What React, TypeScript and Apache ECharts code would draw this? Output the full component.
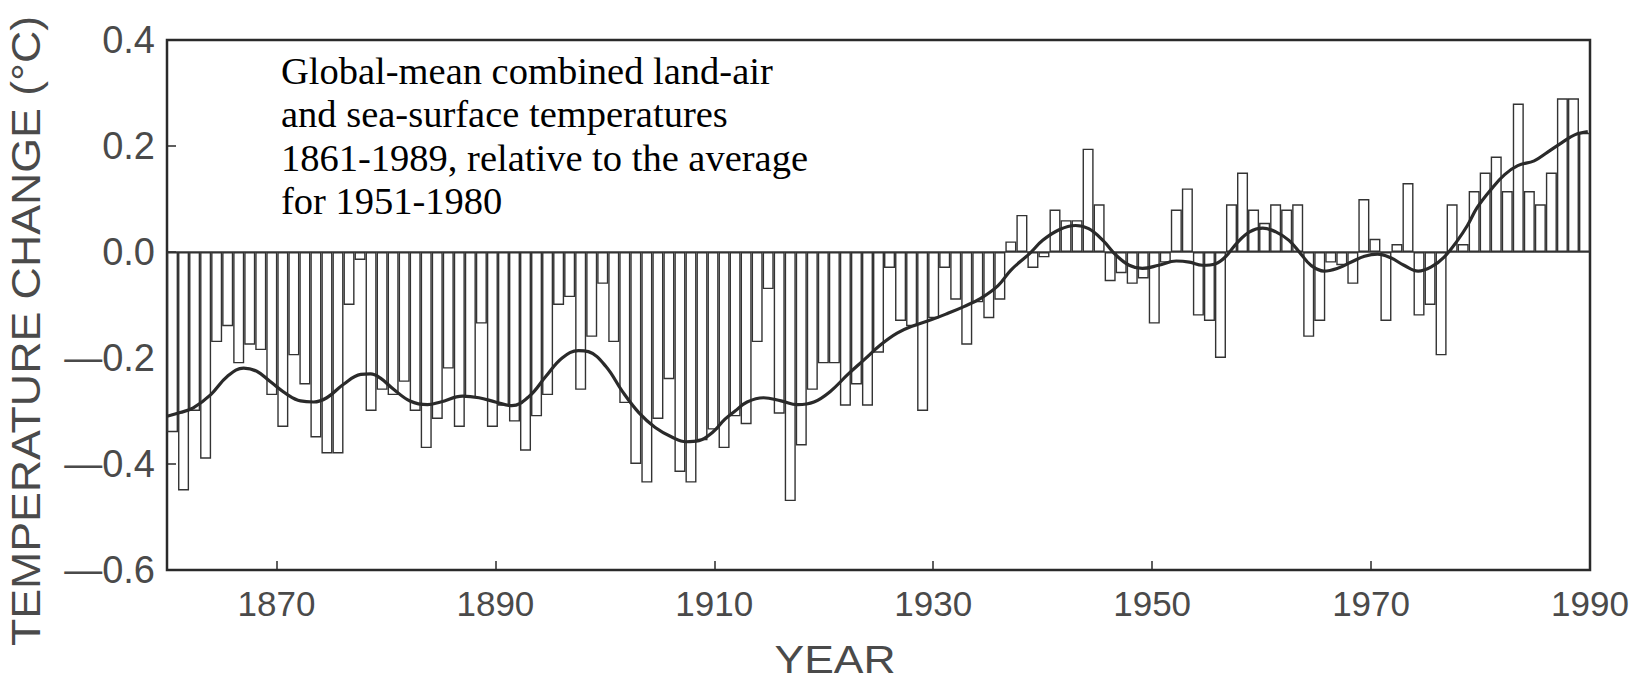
import React, { useEffect, useRef } from "react";
import * as echarts from "echarts";

// Annual anomalies (°C) of global-mean land-air + sea-surface temperature, 1861–1989,
// relative to the 1951–1980 average.
const FIRST_YEAR = 1861;
const anomalies: number[] = [
  // 1861–1870
  -0.34, -0.45, -0.30, -0.39, -0.17, -0.14, -0.21, -0.175, -0.185, -0.27,
  // 1871–1880
  -0.33, -0.195, -0.25, -0.35, -0.38, -0.38, -0.10, -0.015, -0.30, -0.26,
  // 1881–1890
  -0.27, -0.245, -0.30, -0.37, -0.315, -0.22, -0.33, -0.275, -0.135, -0.33,
  // 1891–1900
  -0.29, -0.32, -0.375, -0.31, -0.27, -0.10, -0.085, -0.26, -0.16, -0.06,
  // 1901–1910
  -0.17, -0.285, -0.40, -0.435, -0.315, -0.24, -0.415, -0.435, -0.355, -0.335,
  // 1911–1920
  -0.37, -0.31, -0.325, -0.17, -0.07, -0.305, -0.47, -0.365, -0.26, -0.21,
  // 1921–1930
  -0.21, -0.29, -0.25, -0.29, -0.19, -0.03, -0.13, -0.14, -0.30, -0.125,
  // 1931–1940
  -0.03, -0.09, -0.175, -0.095, -0.125, -0.09, 0.02, 0.07, -0.03, -0.01,
  // 1941–1950
  0.08, 0.06, 0.06, 0.195, 0.09, -0.055, -0.04, -0.06, -0.05, -0.135,
  // 1951–1960
  -0.02, 0.08, 0.12, -0.12, -0.13, -0.20, 0.09, 0.15, 0.08, 0.055,
  // 1961–1970
  0.09, 0.08, 0.09, -0.16, -0.13, -0.02, -0.025, -0.06, 0.10, 0.025,
  // 1971–1980
  -0.13, 0.015, 0.13, -0.12, -0.10, -0.195, 0.09, 0.015, 0.115, 0.15,
  // 1981–1989
  0.18, 0.115, 0.28, 0.115, 0.09, 0.15, 0.29, 0.29, 0.225,
];

const years: string[] = anomalies.map((_, i) => String(FIRST_YEAR + i));

// Smoothed curve (decadal filter), sampled along the time axis.
const smoothYears: number[] = [
  1860.0, 1861.2, 1862.4, 1864.0, 1865.5, 1867.0, 1868.2, 1869.4, 1871.0, 1872.2,
  1873.4, 1874.6, 1876.1, 1877.7, 1878.6, 1879.5, 1880.7, 1882.2, 1883.8, 1885.0,
  1887.0, 1888.5, 1890.0, 1891.5, 1893.1, 1894.6, 1896.1, 1897.6, 1898.5, 1900.1,
  1901.6, 1903.1, 1904.6, 1906.2, 1907.4, 1908.6, 1909.8, 1911.0, 1911.9, 1913.0,
  1914.5, 1916.1, 1917.6, 1919.1, 1920.6, 1922.2, 1923.7, 1925.2, 1926.7, 1928.2,
  1929.8, 1931.3, 1932.8, 1934.3, 1935.9, 1937.1, 1938.8, 1940.0, 1941.5, 1943.0,
  1944.2, 1945.5, 1946.7, 1947.9, 1949.1, 1950.6, 1952.2, 1953.4, 1954.6, 1955.8,
  1956.7, 1957.7, 1958.9, 1960.1, 1961.3, 1962.5, 1963.6, 1964.5, 1965.7, 1966.9,
  1968.2, 1969.4, 1970.6, 1971.8, 1973.0, 1974.3, 1975.5, 1976.7, 1977.9, 1978.8,
  1979.7, 1981.0, 1982.2, 1983.4, 1984.9, 1986.1, 1987.4, 1988.6, 1989.8,
];
const smoothValues: number[] = [
  -0.310, -0.303, -0.294, -0.269, -0.235, -0.219, -0.225, -0.244, -0.269, -0.281,
  -0.283, -0.275, -0.250, -0.231, -0.230, -0.238, -0.259, -0.281, -0.288, -0.283,
  -0.272, -0.275, -0.283, -0.290, -0.272, -0.235, -0.200, -0.186, -0.188, -0.216,
  -0.263, -0.303, -0.331, -0.350, -0.358, -0.356, -0.341, -0.315, -0.300, -0.283,
  -0.275, -0.281, -0.288, -0.283, -0.263, -0.231, -0.203, -0.175, -0.153, -0.139,
  -0.128, -0.116, -0.103, -0.088, -0.064, -0.034, -0.003, 0.022, 0.042, 0.050,
  0.044, 0.022, -0.006, -0.025, -0.031, -0.025, -0.017, -0.019, -0.025, -0.022,
  -0.009, 0.016, 0.038, 0.045, 0.038, 0.022, -0.004, -0.025, -0.036, -0.031,
  -0.019, -0.008, -0.004, -0.011, -0.025, -0.036, -0.028, -0.009, 0.022, 0.050,
  0.084, 0.119, 0.146, 0.163, 0.172, 0.188, 0.206, 0.221, 0.227,
];

const yearTicks: number[] = [1870, 1890, 1910, 1930, 1950, 1970, 1990];

const noteLines: string[] = [
  "Global-mean combined land-air",
  "and sea-surface temperatures",
  "1861-1989, relative to the average",
  "for 1951-1980",
];

const SANS = '"Liberation Sans", Arial, Helvetica, sans-serif';
const INK = "#2a2a2a";
const LABEL = "#4a4a4a";

export default function App() {
  const ref = useRef<HTMLDivElement | null>(null);

  useEffect(() => {
    if (!ref.current) return;
    const chart = echarts.init(ref.current, undefined, { renderer: "svg" });

    const option: echarts.EChartsOption = {
      animation: false,
      backgroundColor: "#ffffff",
      grid: {
        left: 167,
        top: 40,
        right: 53,
        bottom: 111,
        show: true,
        borderColor: INK,
        borderWidth: 2.5,
        backgroundColor: "transparent",
        containLabel: false,
        outerBoundsMode: "none",
      } as any,
      xAxis: [
        {
          type: "category",
          position: "top",
          data: years,
          boundaryGap: true,
          show: false,
        },
        {
          type: "value",
          position: "bottom",
          min: 1860,
          max: 1990,
          axisLine: { show: false },
          splitLine: { show: false },
          axisTick: {
            show: true,
            inside: true,
            length: 9,
            customValues: yearTicks,
            lineStyle: { color: INK, width: 1.5 },
          },
          axisLabel: {
            customValues: yearTicks,
            formatter: (v: number) => String(v),
            color: LABEL,
            fontFamily: SANS,
            fontSize: 35,
            margin: 16,
          },
        } as any,
      ],
      yAxis: {
        type: "value",
        min: -0.6,
        max: 0.4,
        interval: 0.2,
        axisLine: { show: false },
        splitLine: { show: false },
        axisTick: {
          show: true,
          inside: true,
          length: 9,
          lineStyle: { color: INK, width: 1.5 },
        },
        axisLabel: {
          color: LABEL,
          fontFamily: SANS,
          fontSize: 38,
          margin: 12,
          formatter: (v: number) => {
            const r = Math.round(v * 10) / 10;
            return (r < 0 ? "\u2014" : "") + Math.abs(r).toFixed(1);
          },
        },
      },
      series: [
        {
          type: "bar",
          xAxisIndex: 0,
          yAxisIndex: 0,
          data: anomalies,
          barCategoryGap: "0%",
          barGap: "0%",
          itemStyle: {
            color: "#ffffff",
            borderColor: "#333333",
            borderWidth: 1.4,
          },
          silent: true,
          markLine: {
            silent: true,
            symbol: ["none", "none"],
            label: { show: false },
            lineStyle: { color: "#333", type: "solid", width: 1.5 },
            data: [{ yAxis: 0 }],
          },
        },
        {
          type: "line",
          xAxisIndex: 1,
          yAxisIndex: 0,
          data: smoothYears.map((y, i) => [y, smoothValues[i]]),
          smooth: 0.4,
          showSymbol: false,
          symbol: "none",
          silent: true,
          lineStyle: { color: INK, width: 3.2 },
          z: 5,
        },
      ],
      graphic: [
        {
          type: "text",
          left: 281,
          top: 49,
          silent: true,
          style: {
            text: noteLines.join("\n"),
            font: '38.5px "Liberation Serif", "Times New Roman", serif',
            lineHeight: 43.5,
            fill: "#000",
          },
        },
        {
          type: "text",
          x: 835,
          y: 659,
          scaleX: 1.14,
          silent: true,
          style: {
            text: "YEAR",
            font: `39px ${SANS}`,
            lineHeight: 30,
            fill: LABEL,
            align: "center",
            verticalAlign: "middle",
          },
        },
        {
          type: "text",
          x: 26,
          y: 331,
          rotation: Math.PI / 2,
          scaleX: 1.09,
          silent: true,
          style: {
            text: "TEMPERATURE CHANGE (\u00B0C)",
            font: `41px ${SANS}`,
            lineHeight: 34,
            fill: LABEL,
            align: "center",
            verticalAlign: "middle",
          },
        },
      ],
    };

    chart.setOption(option);
    return () => chart.dispose();
  }, []);

  return (
    <div
      ref={ref}
      style={{ position: "fixed", left: 0, top: 0, width: 1643, height: 681, background: "#fff" }}
    />
  );
}
